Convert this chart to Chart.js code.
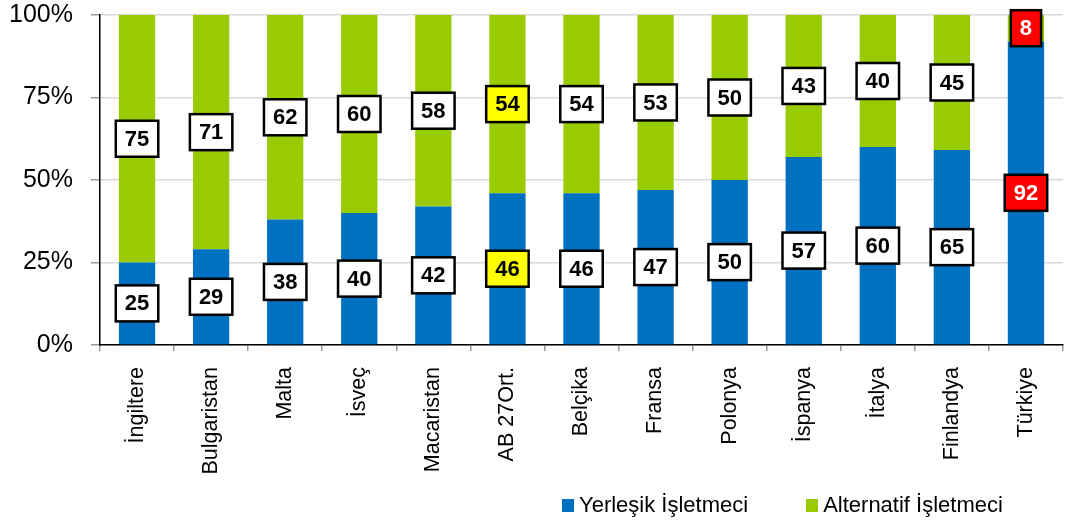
<!DOCTYPE html>
<html>
<head>
<meta charset="utf-8">
<script src="https://cdn.jsdelivr.net/npm/chart.js@4"></script>
<style>
  html, body { margin: 0; padding: 0; background: #fff; }
  #wrap { position: relative; width: 1071px; height: 521px; }
  #legend { position: absolute; left: 562px; top: 494px; display: flex; gap: 58px;
            font: 22px 'Liberation Sans', Arial, sans-serif; line-height: 22px; color: #000; }
  #legend span.item { display: flex; align-items: center; white-space: nowrap; }
  #legend span.box { width: 12px; height: 13px; margin-right: 5px; display: inline-block; }
</style>
</head>
<body>
<div id="wrap">
  <canvas id="operatorChart" width="1071" height="521"></canvas>
  <div id="legend"></div>
</div>
<script>
const countries = ["İngiltere", "Bulgaristan", "Malta", "İsveç", "Macaristan", "AB 27Ort.", "Belçika", "Fransa", "Polonya", "İspanya", "İtalya", "Finlandya", "Türkiye"];
const incumbent = [25, 29, 38, 40, 42, 46, 46, 47, 50, 57, 60, 65, 92];
const alternative = [75, 71, 62, 60, 58, 54, 54, 53, 50, 43, 40, 45, 8];
const yTicks = [0, 25, 50, 75, 100];
const seriesNames = ["Yerleşik İşletmeci", "Alternatif İşletmeci"];

// box colours for the highlighted columns: [fill, text]
const highlight = { "AB 27Ort.": ["#ffff00", "#000"], "Türkiye": ["#ff0000", "#fff"] };

const FONT = "'Liberation Sans', Arial, sans-serif";
Chart.defaults.font.family = FONT;
Chart.defaults.color = "#000";

// bars are 100% stacked, so each pair is turned into shares
const share = (a, b) => a.map((v, i) => v / (v + b[i]) * 100);

const boxLabels = {
  id: "boxLabels",
  afterDatasetsDraw(chart) {
    const ctx = chart.ctx;
    ctx.save();
    ctx.font = "bold 22px " + FONT;
    ctx.textAlign = "center";
    ctx.textBaseline = "middle";
    chart.data.datasets.forEach((ds, di) => {
      chart.getDatasetMeta(di).data.forEach((bar, i) => {
        const text = String(ds.values[i]);
        const col = highlight[countries[i]] || ["#fff", "#000"];
        const w = ctx.measureText(text).width + 18;
        const h = 36;
        const cx = bar.x;
        const cy = (bar.y + bar.base) / 2;
        ctx.fillStyle = col[0];
        ctx.fillRect(cx - w / 2, cy - h / 2, w, h);
        ctx.lineWidth = 2.5;
        ctx.strokeStyle = "#000";
        ctx.strokeRect(cx - w / 2, cy - h / 2, w, h);
        ctx.fillStyle = col[1];
        ctx.fillText(text, cx, cy + 1);
      });
    });
    ctx.restore();
  }
};

// legend as html, built from the datasets
const htmlLegend = {
  id: "htmlLegend",
  afterUpdate(chart) {
    const el = document.getElementById("legend");
    el.innerHTML = "";
    chart.data.datasets.forEach(ds => {
      const item = document.createElement("span");
      item.className = "item";
      const box = document.createElement("span");
      box.className = "box";
      box.style.background = ds.backgroundColor;
      item.appendChild(box);
      item.appendChild(document.createTextNode(ds.label));
      el.appendChild(item);
    });
  }
};

new Chart(document.getElementById("operatorChart"), {
  type: "bar",
  data: {
    labels: countries,
    datasets: [
      {
        label: seriesNames[0],
        data: share(incumbent, alternative),
        values: incumbent,
        backgroundColor: "#0070c0"
      },
      {
        label: seriesNames[1],
        data: share(alternative, incumbent),
        values: alternative,
        backgroundColor: "#99cc00"
      }
    ]
  },
  options: {
    responsive: false,
    animation: false,
    events: [],
    barPercentage: 0.49,
    categoryPercentage: 1,
    layout: { padding: { top: 15, right: 8, left: 0, bottom: 36 } },
    scales: {
      x: {
        stacked: true,
        afterFit: s => { s.height = 140; },
        border: { color: "#000", width: 1.5 },
        grid: { offset: true, drawOnChartArea: false, tickLength: 6, tickColor: "#999", lineWidth: 1.5 },
        ticks: { minRotation: 90, maxRotation: 90, padding: 16, font: { size: 21.5 }, color: "#000" }
      },
      y: {
        stacked: true,
        min: 0,
        max: 100,
        afterFit: s => { s.width = 100; s.paddingTop = 0; s.paddingBottom = 0; },
        afterBuildTicks: s => { s.ticks = yTicks.map(v => ({ value: v })); },
        border: { color: "#000", width: 1.5 },
        grid: { color: "#d9d9d9", lineWidth: 1.5, tickLength: 9, tickColor: "#999" },
        ticks: { padding: 18, font: { size: 25, lineHeight: 1 }, color: "#000", callback: v => v + "%" }
      }
    },
    plugins: {
      tooltip: { enabled: false },
      legend: { display: false }
    }
  },
  plugins: [boxLabels, htmlLegend]
});
</script>
</body>
</html>
